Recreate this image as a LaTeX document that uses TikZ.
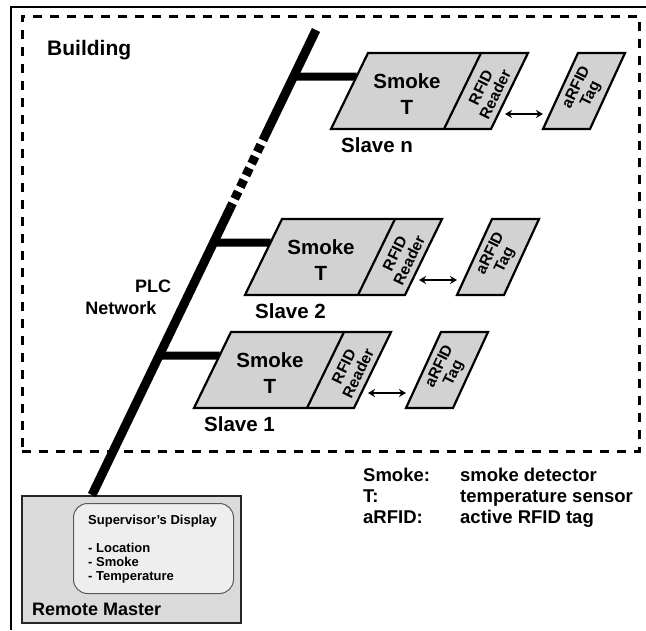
\documentclass[tikz,border=0pt]{standalone}
\usepackage{fontspec}
\setmainfont{Liberation Sans}
\usetikzlibrary{calc,arrows.meta}
\definecolor{boxgray}{RGB}{210,210,210}
\definecolor{rmgray}{RGB}{218,218,218}
\definecolor{dispgray}{RGB}{238,238,238}
\definecolor{dispedge}{RGB}{90,90,90}
\newcommand\fsz[1]{\fontsize{#1}{#1}\selectfont\bfseries}
\newcommand\drawslave[4]{%
  \coordinate (#1tl) at (#2,#3);
  \coordinate (#1tr) at ($(#1tl)+(160,0)$);
  \coordinate (#1br) at ($(#1tl)+(123,76)$);
  \coordinate (#1bl) at ($(#1tl)+(-37,76)$);
  \coordinate (#1dt) at ($(#1tl)+(113,0)$);
  \coordinate (#1db) at ($(#1tl)+(76,76)$);
  \coordinate (#1join) at ($(#1tl)!0.31!(#1bl)$);
  \coordinate (#1far) at ($(#1join)+(-250,0)$);
  \coordinate (#1tap) at (intersection of nettop--netbot and #1join--#1far);
  \draw[branch] (#1tap) -- (#1join);
  \draw[slavebox] (#1tl) -- (#1tr) -- (#1br) -- (#1bl) -- cycle;
  \draw[slavebox, fill=none] (#1dt) -- (#1db);
  \coordinate (#1gtl) at ($(#1tl)+(210,0)$);
  \coordinate (#1gtr) at ($(#1tl)+(257,0)$);
  \coordinate (#1gbr) at ($(#1tl)+(222,76)$);
  \coordinate (#1gbl) at ($(#1tl)+(175,76)$);
  \draw[slavebox] (#1gtl) -- (#1gtr) -- (#1gbr) -- (#1gbl) -- cycle;
  \node[txt, font=\fsz{20.5}, anchor=base] (#1smoke) at ($(#1tl)+(39,35)$) {Smoke};
  \node[txt, font=\fsz{20.5}, anchor=base] (#1t) at ($(#1tl)+(39,61)$) {T};
  \node[rottxt] (#1reader) at ($(#1tl)+(120,38)$) {RFID\\Reader};
  \node[rottxt] (#1tagtxt) at ($(#1tl)+(216,38)$) {aRFID\\Tag};
  \node[txt, font=\fsz{20.5}, anchor=base west] (#1label) at ($(#1tl)+(-27,99)$) {#4};
  \coordinate (#1a) at ($(#1tl)+(137,61)$);
  \coordinate (#1b) at ($(#1tl)+(175,61)$);
  \draw[link] (#1a) -- (#1b);
}
\begin{document}
\begin{tikzpicture}[x=1pt,y=-1pt,
  frame/.style={line width=2pt, draw=black},
  building/.style={line width=2.5pt, dash pattern=on 9pt off 8pt},
  net/.style={line width=9pt, line cap=butt},
  branch/.style={line width=8pt},
  slavebox/.style={fill=boxgray, draw=black, line width=2.2pt, line join=miter},
  link/.style={line width=2pt, {Stealth[length=7pt,width=8pt]}-{Stealth[length=7pt,width=8pt]}},
  txt/.style={inner sep=0pt},
  rottxt/.style={inner sep=0pt, rotate=64, align=center, font=\fontsize{15.5}{16}\selectfont\bfseries},
]
\useasboundingbox (0,0) rectangle (646,630);
% outer frame
\coordinate (fa) at (11,630);
\coordinate (fb) at (11,7);
\coordinate (fc) at (646,7);
\draw[frame] (fa) -- (fb) -- (fc);
% building
\node[draw, building, minimum width=617, minimum height=435, anchor=north west, inner sep=0pt] (bldg) at (21,15) {};
\node[txt, font=\fsz{21}, anchor=base west] (bldglabel) at (47,55) {Building};
% remote master
\node[draw=black!85, line width=2pt, fill=rmgray, minimum width=219, minimum height=127, anchor=north west, inner sep=0pt] (rm) at (21,495) {};
\node[draw=dispedge, line width=1pt, fill=dispgray, rounded corners=14pt, minimum width=160, minimum height=90, anchor=north west, inner sep=0pt] (disp) at (73,503) {};
\node[txt, font=\fsz{13}, anchor=base west] (suphead) at (88,524.6) {Supervisor\symbol{39}s Display};
\node[txt, font=\fsz{13}, anchor=base west] (loc) at (88,552.6) {- Location};
\node[txt, font=\fsz{13}, anchor=base west] (smk) at (88,566.6) {- Smoke};
\node[txt, font=\fsz{13}, anchor=base west] (tmp) at (88,580.6) {- Temperature};
\node[txt, font=\fsz{18}, anchor=base west] (rmlabel) at (32,615.5) {Remote Master};
% network
\coordinate (nettop) at (316,30);
\coordinate (netbot) at ($(rm.north west)+(71,0)$);
\coordinate (dashA) at ($(nettop)!0.237!(netbot)$);
\coordinate (dashB) at ($(nettop)!0.381!(netbot)$);
\draw[net] (nettop) -- (dashA);
\draw[net, dash pattern=on 8pt off 5pt, dash phase=8pt] (dashA) -- (dashB);
\draw[net] (dashB) -- (netbot);
\node[txt, font=\fsz{18}, anchor=base] (plc) at (153,292.5) {PLC};
\node[txt, font=\fsz{18}, anchor=base] (network) at (121,314.5) {Network};
% slaves
\drawslave{sn}{368}{53}{Slave n}
\drawslave{stwo}{282}{219}{Slave 2}
\drawslave{sone}{231}{332}{Slave 1}
% legend
\node[txt, font=\fsz{18.5}, anchor=base west] (l1a) at (363,481) {Smoke:};
\node[txt, font=\fsz{18.5}, anchor=base west] (l1b) at (460,481) {smoke detector};
\node[txt, font=\fsz{18.5}, anchor=base west] (l2a) at (363,502) {T:};
\node[txt, font=\fsz{18.5}, anchor=base west] (l2b) at (460,502) {temperature sensor};
\node[txt, font=\fsz{18.5}, anchor=base west] (l3a) at (363,523) {aRFID:};
\node[txt, font=\fsz{18.5}, anchor=base west] (l3b) at (460,523) {active RFID tag};
\end{tikzpicture}
\end{document}
